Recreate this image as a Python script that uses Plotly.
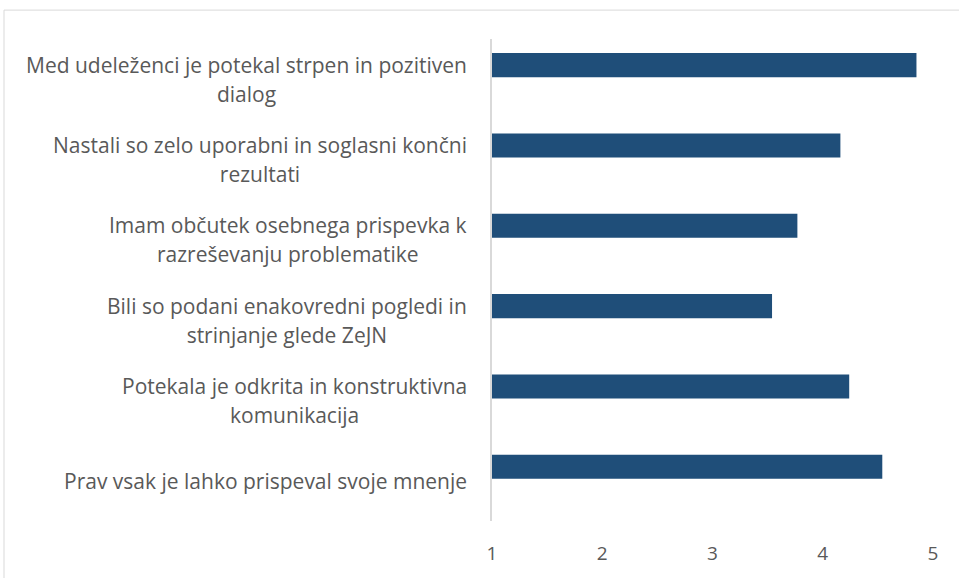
import plotly.graph_objects as go

categories = [
    "Med udeleženci je potekal strpen in pozitiven<br>dialog",
    "Nastali so zelo uporabni in soglasni končni<br>rezultati",
    "Imam občutek osebnega prispevka k<br>razreševanju problematike",
    "Bili so podani enakovredni pogledi in<br>strinjanje glede ZeJN",
    "Potekala je odkrita in konstruktivna<br>komunikacija",
    "Prav vsak je lahko prispeval svoje mnenje",
]
values = [4.85, 4.16, 3.77, 3.54, 4.24, 4.54]
x_ticks = [1, 2, 3, 4, 5]

W, H = 959, 578
ml, mr, mt, mb = 492, 26, 39, 55
pw, ph = W - ml - mr, H - mt - mb

fig = go.Figure()
fig.add_trace(go.Bar(
    y=list(range(len(categories))),
    x=[v - 1 for v in values],
    base=1,
    orientation="h",
    marker=dict(color="#1F4E79", line=dict(width=0)),
    width=0.3,
    offset=-0.325,
    hoverinfo="skip",
))

FONT = "Open Sans"
annotations = []
for i, c in enumerate(categories):
    lines = c.split("<br>")
    txt = "<br>".join(f"<span style='font-size:21px'>{l}</span>" for l in lines)
    annotations.append(dict(
        x=0, xref="paper", y=i, yref="y", xanchor="right", yanchor="middle",
        xshift=-23, text=txt, showarrow=False, align="center",
        font=dict(family=FONT, size=22.5, color="#595959"),
    ))

fig.update_layout(
    width=W, height=H,
    margin=dict(l=ml, r=mr, t=mt, b=mb, pad=0),
    paper_bgcolor="white", plot_bgcolor="white",
    showlegend=False,
    annotations=annotations,
    xaxis=dict(range=[1, 5], tickvals=x_ticks, showgrid=False, zeroline=False,
               showline=False, ticks="", ticklabelstandoff=19,
               tickfont=dict(family=FONT, size=19, color="#595959")),
    yaxis=dict(range=[len(categories) - 0.5, -0.5], showticklabels=False,
               showgrid=False, zeroline=False, showline=True,
               linecolor="#D9D9D9", linewidth=1.5, ticks=""),
    shapes=[dict(type="rect", xref="paper", yref="paper",
                 x0=(4 - ml) / pw, x1=(W + 5 - ml) / pw,
                 y0=(H - mb - (H + 5)) / ph, y1=(H - mb - 10) / ph,
                 line=dict(color="#D9D9D9", width=1), fillcolor="rgba(0,0,0,0)",
                 layer="below")],
)

fig.write_html("out.html")
